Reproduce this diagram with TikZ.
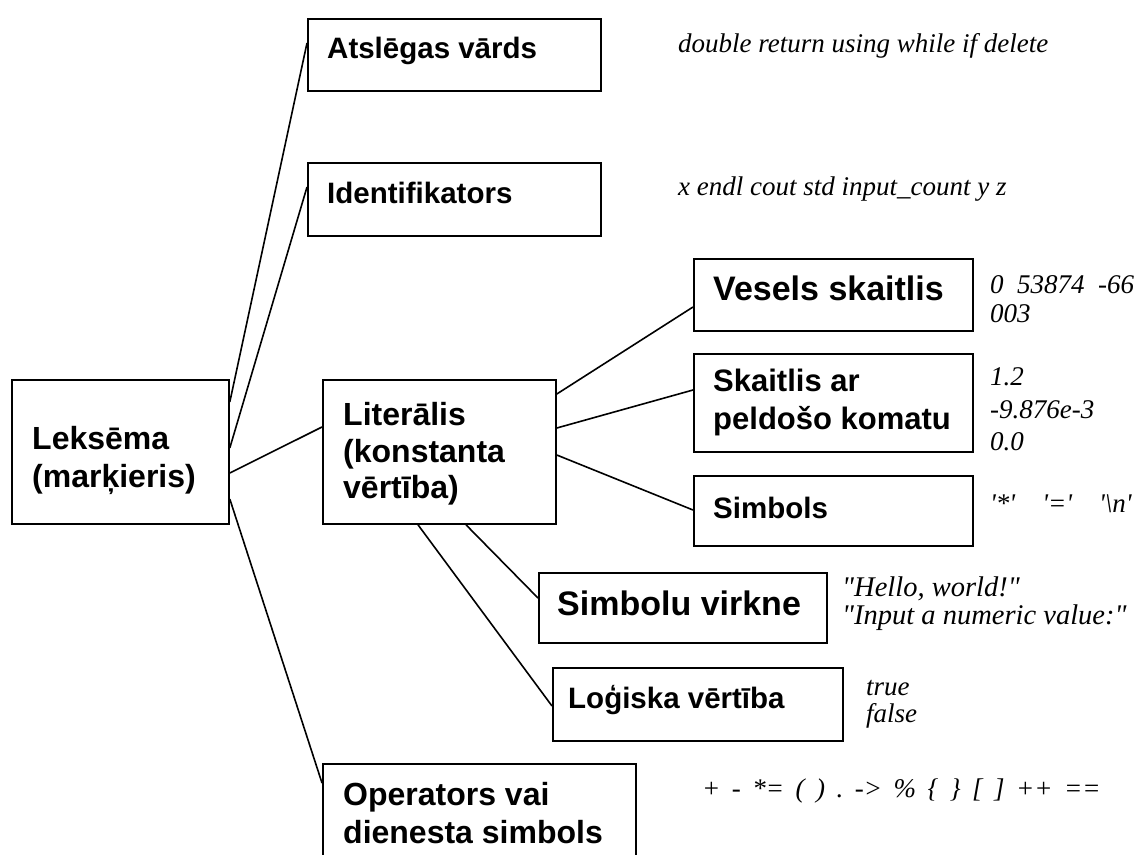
\documentclass[tikz,border=0pt]{standalone}
\usepackage{fontspec}
\newfontfamily\boxfont{Liberation Sans}
\newfontfamily\exfont{Liberation Serif}
\newcommand\opgap{\hspace{11.5pt}}
\begin{document}
\begin{tikzpicture}[x=1pt,y=-1pt,
  box/.style={draw=black,line width=1.8pt,rectangle,anchor=north west,inner sep=0pt},
  lbl/.style={anchor=base west,inner sep=0pt,font=\boxfont\bfseries\fontsize{29.5}{36}\selectfont},
  big/.style={font=\boxfont\bfseries\fontsize{32}{38}\selectfont},
  ex/.style={anchor=base west,inner sep=0pt,font=\exfont\itshape\fontsize{27}{32}\selectfont},
  link/.style={line width=1.6pt}]
\useasboundingbox (0,0) rectangle (1135,854);
\clip (0,0) rectangle (1135,854);
% boxes
\node[box,minimum width=217pt,minimum height=144pt] (lex) at (11,379) {};
\node[box,minimum width=293pt,minimum height=72pt] (kw) at (307,18) {};
\node[box,minimum width=293pt,minimum height=73pt] (id) at (307,162) {};
\node[box,minimum width=233pt,minimum height=144pt] (lit) at (322,379) {};
\node[box,minimum width=279pt,minimum height=72pt] (ves) at (693,258) {};
\node[box,minimum width=279pt,minimum height=98pt] (flt) at (693,353) {};
\node[box,minimum width=279pt,minimum height=70pt] (sym) at (693,475) {};
\node[box,minimum width=288pt,minimum height=70pt] (str) at (538,572) {};
\node[box,minimum width=290pt,minimum height=73pt] (bool) at (552,667) {};
\node[box,minimum width=313pt,minimum height=120pt] (op) at (322,763) {};
% labels
\node[lbl,big] (lexA) at (32,449) {Leksēma};
\node[lbl,big] (lexB) at (32,487) {(marķieris)};
\node[lbl] (kwA) at (327,58) {Atslēgas vārds};
\node[lbl] (idA) at (327,203) {Identifikators};
\node[lbl,big] (litA) at (343,425) {Literālis};
\node[lbl,big] (litB) at (343,462) {(konstanta};
\node[lbl,big] (litC) at (343,498) {vērtība)};
\node[lbl,font=\boxfont\bfseries\fontsize{34}{40}\selectfont] (vesA) at (713,300) {Vesels skaitlis};
\node[lbl,font=\boxfont\bfseries\fontsize{31}{37}\selectfont] (fltA) at (713,391) {Skaitlis ar};
\node[lbl,font=\boxfont\bfseries\fontsize{31}{37}\selectfont] (fltB) at (713,429) {peldošo komatu};
\node[lbl] (symA) at (713,518) {Simbols};
\node[lbl,font=\boxfont\bfseries\fontsize{34}{40}\selectfont] (strA) at (557,615) {Simbolu virkne};
\node[lbl] (boolA) at (568,708) {Loģiska vērtība};
\node[lbl,big] (opA) at (343,805) {Operators vai};
\node[lbl,big] (opB) at (343,843) {dienesta simbols};
% examples
\node[ex] (kwE) at (678,52) {double return using while if delete};
\node[ex] (idE) at (678,195) {x endl cout std input\_count y z};
\node[ex] (vesE) at (990,293) {0\enspace 53874\enspace -66};
\node[ex] (vesF) at (990,322) {003};
\node[ex] (fltE) at (990,385) {1.2};
\node[ex] (fltF) at (990,418) {-9.876e-3};
\node[ex] (fltG) at (990,450) {0.0};
\node[ex] (symE) at (990,512) {\textquotesingle*\textquotesingle\quad \textquotesingle=\textquotesingle\quad \textquotesingle\textbackslash n\textquotesingle};
\node[ex,font=\exfont\itshape\fontsize{28.5}{32}\selectfont] (strE) at (842,596) {"Hello, world!"};
\node[ex,font=\exfont\itshape\fontsize{28.5}{32}\selectfont] (strF) at (842,624) {"Input a numeric value:"};
\node[ex] (boolE) at (866,695) {true};
\node[ex] (boolF) at (866,722) {false};
\node[ex] (opE) at (702,797) {+\opgap-\opgap*=\opgap(\opgap)\opgap.\opgap->\opgap\%\opgap\{\opgap\}\opgap[\opgap]\opgap++\opgap==};
% connectors
\draw[link] ([yshift=-23pt]lex.north east) -- ([yshift=-25pt]kw.north west);
\draw[link] ([yshift=-69pt]lex.north east) -- ([yshift=-25pt]id.north west);
\draw[link] ([yshift=-94pt]lex.north east) -- ([yshift=-48pt]lit.north west);
\draw[link] ([yshift=-120pt]lex.north east) -- ([yshift=-20pt]op.north west);
\draw[link] ([yshift=-15pt]lit.north east) -- ([yshift=-49pt]ves.north west);
\draw[link] ([yshift=-49pt]lit.north east) -- ([yshift=-37pt]flt.north west);
\draw[link] ([yshift=-76pt]lit.north east) -- ([yshift=-35pt]sym.north west);
\draw[link] ([xshift=144pt]lit.south west) -- ([yshift=-26pt]str.north west);
\draw[link] ([xshift=96pt]lit.south west) -- ([yshift=-39pt]bool.north west);
\end{tikzpicture}
\end{document}
